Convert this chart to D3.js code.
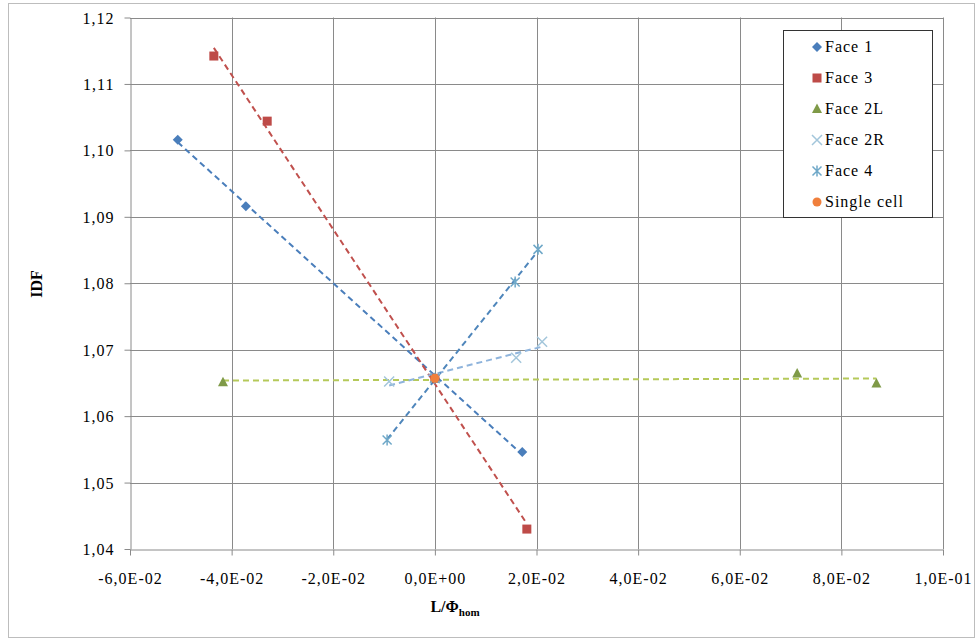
<!DOCTYPE html>
<html lang="en">
<head>
    <meta charset="UTF-8">
    <title>IDF vs L/Phi_hom</title>
    <script src="https://d3js.org/d3.v7.min.js"></script>
    <style>
        body { margin: 0; background: #fff; }
        svg text { font-family: "Liberation Serif", "Times New Roman", serif; fill: #000; letter-spacing: 1px; }
        .grid line { stroke: #8a8a8a; stroke-width: 1px; }
        .axis path, .axis line { stroke: #8a8a8a; }
    </style>
</head>
<body>
<script>
    const seriesNames = ['Face 1', 'Face 3', 'Face 2L', 'Face 2R', 'Face 4', 'Single cell'];
    const face1 = [[-0.0506, 1.1016], [-0.0372, 1.0916], [0.0, 1.0657], [0.0172, 1.0546]];
    const face3 = [[-0.0435, 1.1142], [-0.0330, 1.1044], [0.0, 1.0657], [0.0181, 1.0430]];
    const face2L = [[-0.0417, 1.0651], [0.0, 1.0657], [0.0713, 1.0664], [0.0869, 1.0649]];
    const face2R = [[-0.0090, 1.0652], [0.0, 1.0657], [0.0160, 1.0688], [0.0211, 1.0712]];
    const face4 = [[-0.0094, 1.0564], [0.0, 1.0657], [0.0158, 1.0802], [0.0203, 1.0851]];
    const singleCell = [[0.0, 1.0657]];

    const xTicks = [-0.06, -0.04, -0.02, 0, 0.02, 0.04, 0.06, 0.08, 0.1];
    const xTickLabels = ['-6,0E-02', '-4,0E-02', '-2,0E-02', '0,0E+00', '2,0E-02', '4,0E-02', '6,0E-02', '8,0E-02', '1,0E-01'];
    const yTicks = [1.04, 1.05, 1.06, 1.07, 1.08, 1.09, 1.10, 1.11, 1.12];
    const yTickLabels = ['1,04', '1,05', '1,06', '1,07', '1,08', '1,09', '1,10', '1,11', '1,12'];

    const width = 979;
    const height = 642;
    const plot = { left: 130, right: 943, top: 17.5, bottom: 549 };

    const x = d3.scaleLinear().domain([-0.06, 0.1]).range([plot.left, plot.right]);
    const y = d3.scaleLinear().domain([1.04, 1.12]).range([plot.bottom, plot.top]);

    const svg = d3.select('body').append('svg')
        .attr('width', width)
        .attr('height', height);

    // outer chart frame
    svg.append('rect')
        .attr('x', 8.5).attr('y', 3.5)
        .attr('width', 966).attr('height', 634)
        .attr('fill', 'none')
        .attr('stroke', '#bdbdbd');

    // gridlines
    const grid = svg.append('g').attr('class', 'grid');
    grid.selectAll('.v').data(xTicks.slice(1)).enter().append('line')
        .attr('x1', d => Math.round(x(d)) + 0.5).attr('x2', d => Math.round(x(d)) + 0.5)
        .attr('y1', plot.top).attr('y2', plot.bottom);
    grid.selectAll('.h').data(yTicks.slice(1)).enter().append('line')
        .attr('x1', plot.left).attr('x2', plot.right)
        .attr('y1', d => Math.round(y(d)) + 0.5).attr('y2', d => Math.round(y(d)) + 0.5);

    // axes
    const xAxis = svg.append('g').attr('class', 'axis')
        .attr('transform', `translate(0,${Math.round(plot.bottom) + 0.5})`)
        .call(d3.axisBottom(x).tickValues(xTicks).tickSize(6).tickSizeOuter(0)
            .tickFormat((d, i) => xTickLabels[i]));
    xAxis.attr('font-family', null).attr('font-size', null);
    xAxis.selectAll('text').attr('dy', 0).attr('y', 34).style('font-size', '16px');

    const yAxis = svg.append('g').attr('class', 'axis')
        .attr('transform', `translate(${plot.left + 0.5},0)`)
        .call(d3.axisLeft(y).tickValues(yTicks).tickSize(6).tickSizeOuter(0)
            .tickFormat((d, i) => yTickLabels[i]));
    yAxis.attr('font-family', null).attr('font-size', null);
    yAxis.selectAll('text').attr('x', -16).attr('dy', '0.35em').style('font-size', '16px');

    // axis titles
    const xTitle = svg.append('text')
        .attr('x', 455).attr('y', 612)
        .attr('text-anchor', 'middle')
        .style('font-size', '16px').style('font-weight', 'bold').style('letter-spacing', '0px');
    xTitle.append('tspan').text('L/Φ');
    xTitle.append('tspan').attr('dy', 4).style('font-size', '11px').text('hom');

    svg.append('text')
        .attr('transform', 'translate(42,284) rotate(-90)')
        .attr('text-anchor', 'middle')
        .style('font-size', '16px').style('font-weight', 'bold').style('letter-spacing', '0px')
        .text('IDF');

    // linear trendlines
    function fit(pts) {
        const mx = d3.mean(pts, p => p[0]);
        const my = d3.mean(pts, p => p[1]);
        const sxy = d3.sum(pts, p => (p[0] - mx) * (p[1] - my));
        const sxx = d3.sum(pts, p => (p[0] - mx) * (p[0] - mx));
        const b = sxy / sxx;
        const a = my - b * mx;
        const [x0, x1] = d3.extent(pts, p => p[0]);
        return [[x0, a + b * x0], [x1, a + b * x1]];
    }

    const series = [
        { name: seriesNames[0], pts: face1, color: '#4a7ebb', line: '#4a7ebb', shape: 'diamond' },
        { name: seriesNames[1], pts: face3, color: '#be4b48', line: '#c0504d', shape: 'square' },
        { name: seriesNames[2], pts: face2L, color: '#7f9a48', line: '#b5c95a', shape: 'triangle' },
        { name: seriesNames[3], pts: face2R, color: '#a3c6db', line: '#8fb4dc', shape: 'x' },
        { name: seriesNames[4], pts: face4, color: '#6fa8c8', line: '#4f86bb', shape: 'star' },
        { name: seriesNames[5], pts: singleCell, color: '#f07f3c', line: null, shape: 'circle' }
    ];

    const lineGen = d3.line().x(d => x(d[0])).y(d => y(d[1]));
    const lines = svg.append('g');
    series.filter(s => s.line).forEach(s => {
        lines.append('path')
            .attr('d', lineGen(fit(s.pts)))
            .attr('fill', 'none')
            .attr('stroke', s.line)
            .attr('stroke-width', 2)
            .attr('stroke-dasharray', '6,4');
    });

    function drawMarker(g, shape, color, cx, cy) {
        if (shape === 'diamond') {
            g.append('path').attr('d', `M${cx},${cy - 5}L${cx + 5},${cy}L${cx},${cy + 5}L${cx - 5},${cy}Z`)
                .attr('fill', color);
        } else if (shape === 'square') {
            g.append('rect').attr('x', cx - 4.5).attr('y', cy - 4.5).attr('width', 9).attr('height', 9)
                .attr('fill', color);
        } else if (shape === 'triangle') {
            g.append('path').attr('d', `M${cx},${cy - 5.5}L${cx + 5},${cy + 4}L${cx - 5},${cy + 4}Z`)
                .attr('fill', color);
        } else if (shape === 'x') {
            g.append('path').attr('d', `M${cx - 5},${cy - 5}L${cx + 5},${cy + 5}M${cx - 5},${cy + 5}L${cx + 5},${cy - 5}`)
                .attr('stroke', color).attr('stroke-width', 1.5);
        } else if (shape === 'star') {
            g.append('path').attr('d', `M${cx - 4.5},${cy - 4.5}L${cx + 4.5},${cy + 4.5}M${cx - 4.5},${cy + 4.5}L${cx + 4.5},${cy - 4.5}M${cx},${cy - 5.5}L${cx},${cy + 5.5}`)
                .attr('stroke', color).attr('stroke-width', 1.5);
        } else {
            g.append('circle').attr('cx', cx).attr('cy', cy).attr('r', 4.5).attr('fill', color);
        }
    }

    const marks = svg.append('g');
    series.forEach(s => {
        s.pts.forEach(p => drawMarker(marks, s.shape, s.color, x(p[0]), y(p[1])));
    });

    // legend
    const legend = svg.append('g');
    legend.append('rect')
        .attr('x', 783.5).attr('y', 30.5).attr('width', 149).attr('height', 187)
        .attr('fill', '#fff').attr('stroke', '#333');
    series.forEach((s, i) => {
        const ly = 47 + i * 31;
        drawMarker(legend, s.shape, s.color, 817, ly);
        legend.append('text')
            .attr('x', 825).attr('y', ly + 5)
            .style('font-size', '16px')
            .text(s.name);
    });
</script>
</body>
</html>
